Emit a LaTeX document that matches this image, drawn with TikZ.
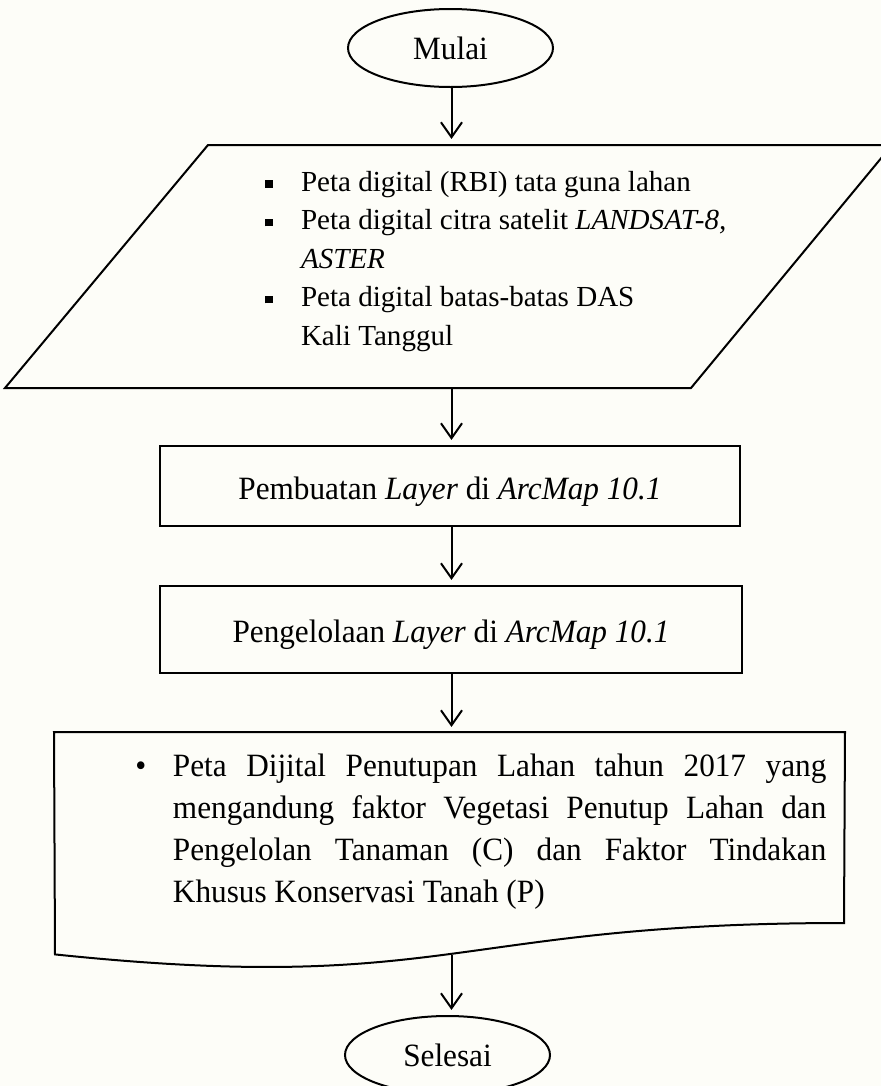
\documentclass[tikz,border=0pt]{standalone}
\usepackage{fontspec}
\setmainfont{Liberation Serif}[FakeStretch=0.96]
\newfontfamily\listfont{Liberation Serif}
\usetikzlibrary{arrows.meta,shapes.geometric}
\newcommand{\sqbullet}{\makebox[13.5pt][l]{\raisebox{1.2pt}{\rule{2.9pt}{2.9pt}}}}
\newcommand{\flowfont}{\fontsize{12.2pt}{15pt}\selectfont}
\definecolor{paper}{RGB}{253,253,248}
\begin{document}
\begin{tikzpicture}[x=0.375pt,y=-0.375pt,line width=0.75pt,
  every node/.style={font=\flowfont},
  flow/.style={-{Straight Barb[length=5.6pt,width=7.9pt,line width=0.75pt]},shorten >=1.9pt},
  terminal/.style={draw,ellipse,inner sep=0pt},
  procbox/.style={draw,rectangle,inner sep=0pt,text height=10pt,text depth=0pt},
  frame/.style={inner sep=0pt}]
\clip (0,0) rectangle (881,1086);
\fill[paper] (0,0) rectangle (881,1086);
\coordinate (axis) at (451.5,0);

% start terminal
\node[terminal,minimum width={205*0.375pt},minimum height={78*0.375pt}] (start) at (450.5,48) {Mulai};

% input data (parallelogram)
\node[frame,minimum width={686*0.375pt},minimum height={243*0.375pt}] (input) at (450,266.5) {};
\draw (208,145) -- (892,145) -- (691,388) -- (5,388) -- cycle;
\node[frame,anchor=base west] (inputlist) at (264,191) {\parbox[t]{200pt}{\listfont\fontsize{10.9pt}{14.44pt}\selectfont
\sqbullet Peta digital (RBI) tata guna lahan\\
\sqbullet Peta digital citra satelit \textit{LANDSAT-8,}\\
\hspace*{13.5pt}\textit{ASTER}\\
\sqbullet Peta digital batas-batas DAS\\
\hspace*{13.5pt}Kali Tanggul}};

% processing steps
\node[procbox,minimum width={580*0.375pt},minimum height={80*0.375pt}] (make) at (450,486) {Pembuatan \textit{Layer} di \textit{ArcMap 10.1}};
\node[procbox,minimum width={582*0.375pt},minimum height={87*0.375pt}] (manage) at (451,629.5) {Pengelolaan \textit{Layer} di \textit{ArcMap 10.1}};

% output document with wavy lower edge
\node[frame,minimum width={789*0.375pt},minimum height={221*0.375pt}] (output) at (449.5,843.5) {};
\draw (output.north west) -- (output.north east) -- (844,923)
  .. controls (449.5,923) and (449.5,995.4) .. (55,954.4) -- cycle;
\node[frame,anchor=base west] (outtext) at (172,776) {\parbox[t]{245pt}{\fontsize{12.2pt}{15.75pt}\selectfont
\leavevmode\llap{\textbullet\hspace{10pt}}Peta Dijital Penutupan Lahan tahun 2017 yang\linebreak
mengandung faktor Vegetasi Penutup Lahan dan\linebreak
Pengelolan Tanaman (C) dan Faktor Tindakan\linebreak
Khusus Konservasi Tanah (P)}};

% end terminal
\node[terminal,minimum width={205*0.375pt},minimum height={78*0.375pt}] (stop) at (447.5,1055) {Selesai};

% connectors
\draw[flow] (start.south -| axis) -- (input.north -| axis);
\draw[flow] (input.south -| axis) -- (make.north -| axis);
\draw[flow] (make.south -| axis) -- (manage.north -| axis);
\draw[flow] (manage.south -| axis) -- (output.north -| axis);
\draw[flow] (output.south -| axis) -- (stop.north -| axis);
\end{tikzpicture}
\end{document}
